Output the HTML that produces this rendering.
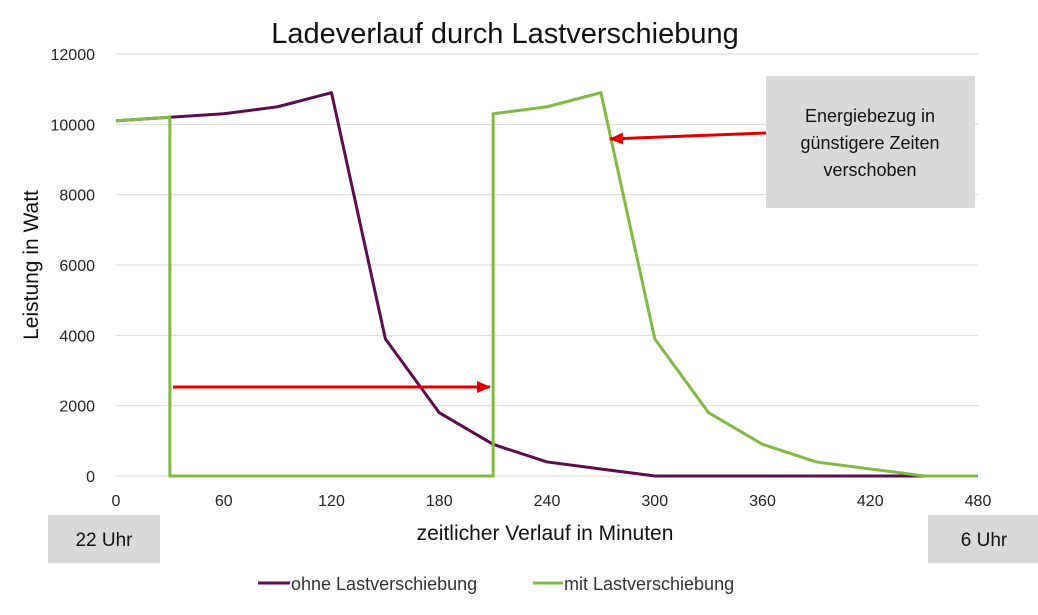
<!DOCTYPE html>
<html><head><meta charset="utf-8"><style>
body{margin:0;background:#fff;}
svg text{font-family:"Liberation Sans",sans-serif;}
</style></head><body>
<svg id="c" width="1038" height="610" xmlns="http://www.w3.org/2000/svg">
<text x="505" y="43" font-size="29" text-anchor="middle" fill="#111">Ladeverlauf durch Lastverschiebung</text>
<g id="grid"></g>
<g id="series"></g>
<text transform="translate(38,265) rotate(-90)" font-size="21" text-anchor="middle" fill="#111">Leistung  in Watt</text>
<text x="545" y="540" font-size="21" text-anchor="middle" fill="#111">zeitlicher Verlauf in Minuten</text>
<rect x="48" y="515" width="112" height="48" fill="#d9d9d9"/>
<text x="104" y="546" font-size="19" text-anchor="middle" fill="#111">22 Uhr</text>
<rect x="928" y="515" width="110" height="48" fill="#d9d9d9"/>
<text x="984" y="546" font-size="19" text-anchor="middle" fill="#111">6 Uhr</text>
<rect x="766" y="76" width="209" height="132" fill="#d9d9d9"/>
<g font-size="18" text-anchor="middle" fill="#111">
<text x="870" y="122">Energiebezug in</text>
<text x="870" y="149">günstigere Zeiten</text>
<text x="870" y="176">verschoben</text>
</g>
<defs><marker id="ah" markerWidth="14" markerHeight="12" refX="13" refY="6" orient="auto" markerUnits="userSpaceOnUse"><path d="M0,0 L14,6 L0,12 Z" fill="#e00000"/></marker></defs>
<line x1="173" y1="387" x2="490" y2="387" stroke="#e00000" stroke-width="3" marker-end="url(#ah)"/>
<line x1="766" y1="133" x2="610" y2="139" stroke="#e00000" stroke-width="3" marker-end="url(#ah)"/>
<line x1="258" y1="583" x2="290" y2="583" stroke="#5e0b4f" stroke-width="3"/>
<text x="291" y="590" font-size="18" fill="#333">ohne Lastverschiebung</text>
<line x1="533" y1="583" x2="563" y2="583" stroke="#7fba42" stroke-width="3"/>
<text x="564" y="590" font-size="18" fill="#333">mit Lastverschiebung</text>
</svg>
<script>
const xTicks=[0,60,120,180,240,300,360,420,480];
const yTicks=[0,2000,4000,6000,8000,10000,12000];
const ohneX=[0,30,60,90,120,150,180,210,240,270,300,330,360,390,420,450,480];
const ohneY=[10100,10200,10300,10500,10900,3900,1800,900,400,200,0,0,0,0,0,0,0];
const mitX=[0,30,30,210,210,240,270,300,330,360,390,420,450,480];
const mitY=[10100,10200,0,0,10300,10500,10900,3900,1800,900,400,200,0,0];
const X=v=>116+v*(978-116)/480, Y=v=>476-v*(476-54)/12000;
const ns="http://www.w3.org/2000/svg";
const g=document.getElementById('grid'), s=document.getElementById('series');
function mk(t,a,p){const e=document.createElementNS(ns,t);for(const k in a)e.setAttribute(k,a[k]);p.appendChild(e);return e;}
yTicks.forEach(v=>{
 const l=mk('line',{x1:116,x2:978,y1:Y(v),y2:Y(v),stroke:'#d9d9d9','stroke-width':1},g);
 
 
 const t=mk('text',{x:95,y:Y(v)+6,'font-size':16,'text-anchor':'end',fill:'#222'},g);t.textContent=v;
 
 
});
xTicks.forEach(v=>{
 const t=mk('text',{x:X(v),y:506,'font-size':16,'text-anchor':'middle',fill:'#222'},g);t.textContent=v;
 
 
});
function line(xs,ys,c,n){
 const p=mk('polyline',{points:xs.map((x,i)=>X(x)+','+Y(ys[i])).join(' '),fill:'none',stroke:c,'stroke-width':3,'stroke-linejoin':'round'},s);
 
 
}
line(ohneX,ohneY,'#5e0b4f','series-ohne-lastverschiebung');
line(mitX,mitY,'#7fba42','series-mit-lastverschiebung');
</script>
</body></html>
